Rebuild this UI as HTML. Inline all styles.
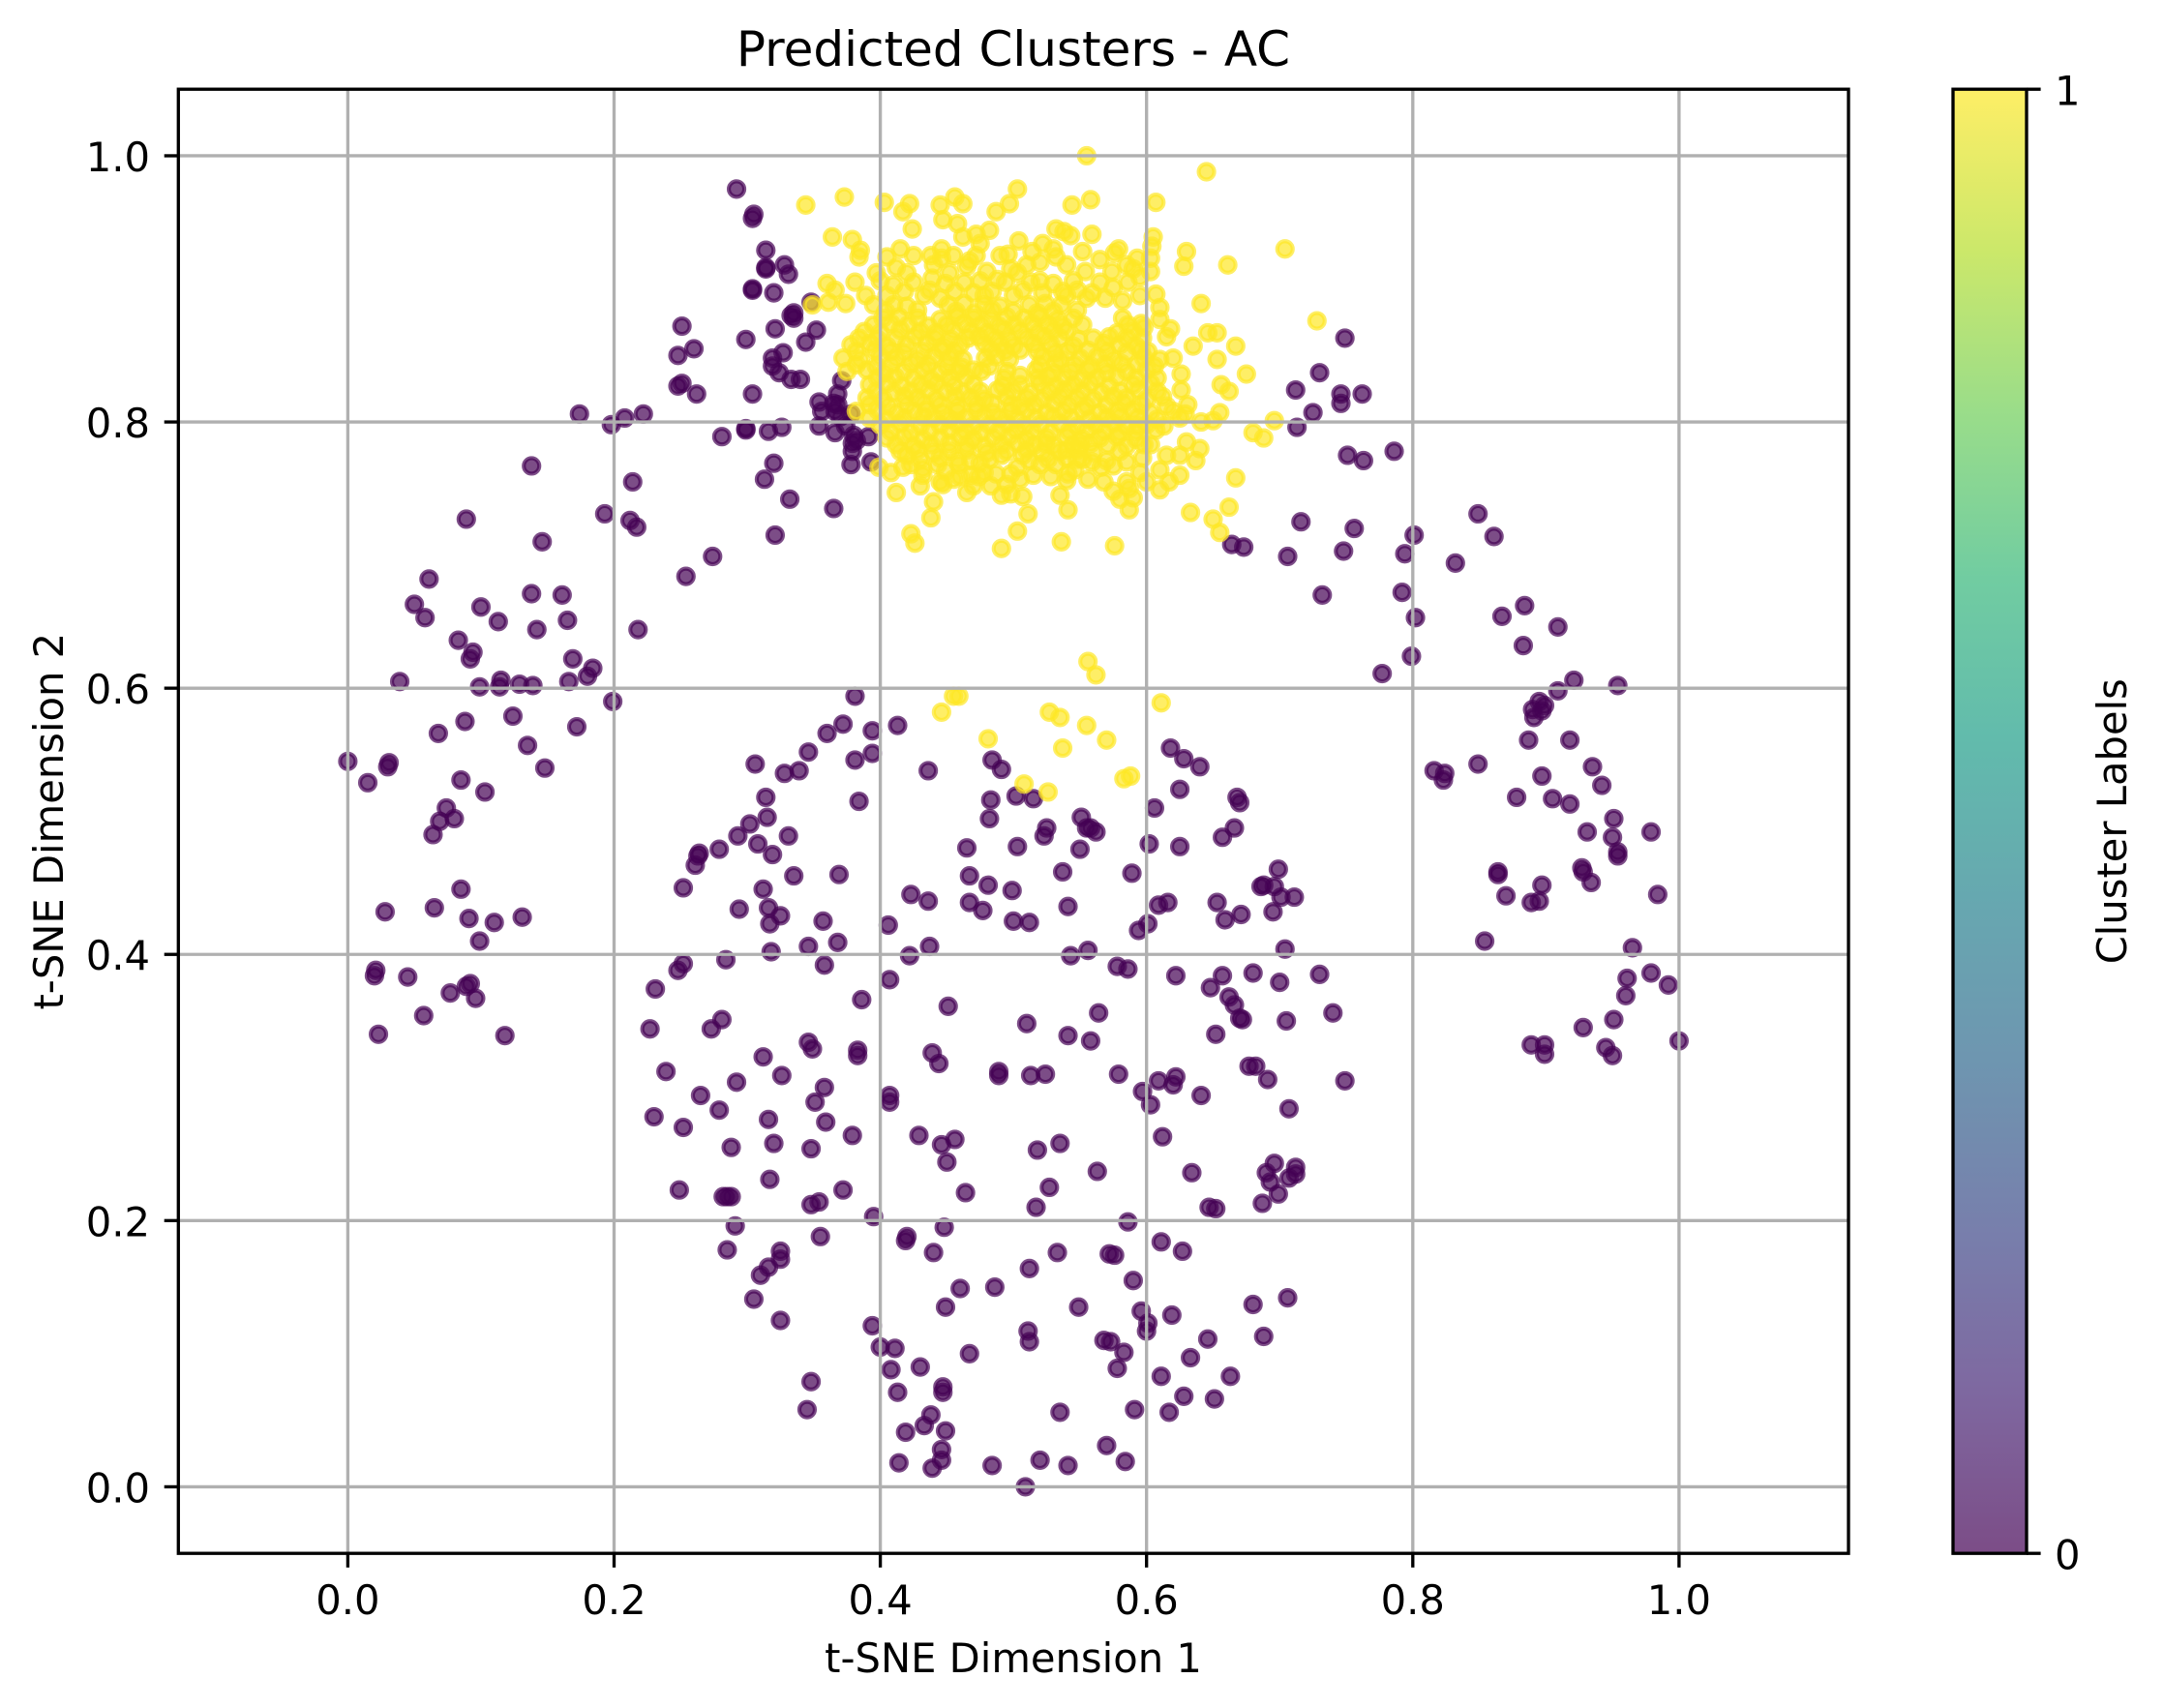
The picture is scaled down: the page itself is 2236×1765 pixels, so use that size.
<!DOCTYPE html>
<html>
<head>
<meta charset="utf-8">
<title>Predicted Clusters - AC</title>
<style>
html,body{margin:0;padding:0;background:#fff}
svg{display:block}
text{font-family:"DejaVu Sans","Liberation Sans",sans-serif;fill:#000}
</style>
</head>
<body>
<svg id="chart" xmlns="http://www.w3.org/2000/svg" width="2236" height="1765" viewBox="0 0 2236 1765">
<defs>
<linearGradient id="viridis" x1="0" y1="1" x2="0" y2="0">
<stop offset="0" stop-color="#440154"/><stop offset="0.111" stop-color="#482878"/><stop offset="0.222" stop-color="#3e4989"/><stop offset="0.333" stop-color="#31688e"/><stop offset="0.444" stop-color="#26828e"/><stop offset="0.556" stop-color="#1f9e89"/><stop offset="0.667" stop-color="#35b779"/><stop offset="0.778" stop-color="#6ece58"/><stop offset="0.889" stop-color="#b5de2b"/><stop offset="1" stop-color="#fde725"/>
</linearGradient>
</defs>
<rect x="0" y="0" width="2236" height="1765" fill="#fff"/>
<g id="points"></g>
<g id="grid"></g>
<rect x="184.3" y="92.2" width="1725.7" height="1513" fill="none" stroke="#000" stroke-width="3.33"/>
<g id="ticks"></g>
<text x="1047" y="68" font-size="50" text-anchor="middle">Predicted Clusters - AC</text>
<text x="1047" y="1728" font-size="41.67" text-anchor="middle">t-SNE Dimension 1</text>
<text transform="translate(65,848.7) rotate(-90)" font-size="41.67" text-anchor="middle">t-SNE Dimension 2</text>
<rect x="2018" y="92.2" width="76" height="1513" fill="url(#viridis)" fill-opacity="0.7"/>
<rect x="2018" y="92.2" width="76" height="1513" fill="none" stroke="#000" stroke-width="3.33"/>
<line x1="2094" y1="92.2" x2="2108.6" y2="92.2" stroke="#000" stroke-width="3.33"/>
<line x1="2094" y1="1605.2" x2="2108.6" y2="1605.2" stroke="#000" stroke-width="3.33"/>
<text x="2123" y="108.5" font-size="41.67">1</text>
<text x="2123" y="1621.5" font-size="41.67">0</text>
<text transform="translate(2197,848.7) rotate(-90)" font-size="41.67" text-anchor="middle">Cluster Labels</text>
</svg>
<script>
const xTickValues = [0, 0.2, 0.4, 0.6, 0.8, 1.0];
const yTickValues = [0, 0.2, 0.4, 0.6, 0.8, 1.0];
const xTickLabels = ["0.0", "0.2", "0.4", "0.6", "0.8", "1.0"];
const yTickLabels = ["0.0", "0.2", "0.4", "0.6", "0.8", "1.0"];
const cluster0Points = [
[.174,.806],[.198,.798],[.208,.803],[.222,.806],[.281,.789],[.299,.795],[.299,.794],[.316,.793],[.326,.796],[.320,.769],[.313,.757],[.332,.742],[.365,.735],[.321,.715],[.274,.699],[.254,.684],[.138,.767],[.214,.755],[.089,.727],[.193,.731],[.212,.726],[.217,.721],[.146,.710],[.061,.682],[.050,.663],[.058,.653],[.100,.661],[.113,.650],[.138,.671],[.161,.670],[.165,.651],[.142,.644],[.218,.644],[.083,.636],[.094,.627],[.092,.622],[.169,.622],[.184,.615],[.180,.609],[.039,.605],[.099,.601],[.115,.606],[.114,.601],[.129,.603],[.139,.602],[.166,.605],[.199,.590],[.381,.594],[.088,.575],[.068,.566],[.124,.579],[.172,.571],[.135,.557],[.148,.540],[0,.545],[.015,.529],[.031,.544],[.030,.541],[.085,.531],[.103,.522],[.074,.510],[.069,.500],[.080,.502],[.064,.490],
[.372,.573],[.360,.566],[.394,.568],[.413,.572],[.346,.552],[.394,.551],[.381,.546],[.339,.538],[.328,.536],[.306,.543],[.436,.538],[.314,.518],[.384,.515],[.315,.503],[.302,.498],[.293,.489],[.308,.483],[.331,.489],[.279,.479],[.264,.476],[.319,.475],[.465,.480],[.484,.546],[.491,.539],[.483,.516],[.482,.502],
[.292,.975],[.305,.956],[.304,.953],[.314,.929],[.314,.915],[.314,.916],[.328,.918],[.331,.911],[.304,.900],[.304,.899],[.320,.897],[.348,.890],[.335,.882],[.335,.878],[.333,.880],[.321,.870],[.352,.869],[.299,.862],[.344,.860],[.251,.872],[.260,.855],[.248,.850],[.327,.852],[.319,.848],[.319,.842],[.324,.837],[.333,.832],[.340,.832],[.251,.829],[.248,.827],[.262,.821],[.304,.821],[.371,.831],[.368,.821],[.354,.815],[.365,.814],[.368,.813],[.356,.808],[.378,.806],[.366,.808],[.370,.804],[.354,.797],[.366,.792],[.374,.797],[.380,.790],[.379,.784],[.382,.786],[.391,.789],[.379,.778],[.378,.768],[.393,.770],
[.749,.863],[.730,.837],[.712,.824],[.746,.821],[.746,.814],[.725,.807],[.762,.821],[.713,.796],[.751,.775],[.716,.725],[.706,.699],[.748,.703],[.664,.708],[.673,.706],[.732,.670],
[.763,.771],[.786,.778],[.849,.731],[.861,.714],[.756,.720],[.801,.715],[.794,.701],[.832,.694],[.792,.672],[.802,.653],[.867,.654],[.884,.662],[.909,.646],[.883,.632],[.799,.624],[.777,.611],[.921,.606],[.954,.602],[.909,.598],[.895,.590],[.899,.587],[.890,.584],[.897,.583],[.891,.578],[.887,.561],[.918,.561],[.849,.543],[.935,.541],[.942,.527],[.816,.538],[.824,.536],[.823,.531],[.897,.534],[.878,.518],[.905,.517],[.918,.513],[.951,.502],[.931,.492],[.950,.488],[.979,.492],[.954,.477],
[.618,.555],[.628,.547],[.640,.541],[.625,.524],[.606,.510],[.668,.518],[.670,.514],[.666,.495],[.657,.488],[.602,.483],[.625,.481],[.502,.519],[.515,.517],[.551,.503],[.555,.495],[.558,.495],[.562,.492],[.525,.495],[.523,.489],[.503,.481],[.550,.479],
[.537,.462],[.589,.461],[.499,.448],[.541,.436],[.609,.437],[.616,.439],[.594,.418],[.601,.423],[.699,.464],[.688,.452],[.686,.451],[.696,.451],[.701,.443],[.711,.443],[.695,.432],[.653,.439],[.671,.430],[.659,.426],[.704,.404],[.543,.399],[.556,.403],[.500,.425],[.512,.424],[.578,.391],[.586,.389],[.622,.384],[.657,.384],[.648,.375],[.680,.386],[.700,.379],[.730,.385],[.662,.368],[.666,.362],[.670,.352],[.672,.351],[.705,.350],[.740,.356],[.652,.340],[.564,.356],[.510,.348],[.541,.339],[.558,.335],[.513,.309],[.524,.310],[.579,.310],[.609,.305],[.622,.308],[.620,.302],[.597,.297],[.603,.287],[.641,.294],[.677,.316],[.682,.316],[.691,.306],[.749,.305],[.707,.284],[.535,.258],[.518,.253],[.612,.263],[.563,.237],[.527,.225],[.517,.210],[.634,.236],[.696,.243],[.690,.236],[.712,.240],[.712,.235],[.707,.232],[.693,.229],[.699,.220],[.687,.213],[.647,.210],[.652,.209],[.586,.199],[.611,.184],[.627,.177],[.533,.176],[.572,.175],[.576,.174],[.512,.164],[.590,.155],[.549,.135],[.596,.132],[.619,.129],[.680,.137],[.706,.142],
[.864,.462],[.864,.460],[.927,.465],[.928,.462],[.934,.454],[.954,.474],[.897,.452],[.870,.444],[.889,.439],[.895,.440],[.984,.445],[.854,.410],[.965,.405],[.961,.382],[.979,.386],[.992,.377],[.960,.369],[.951,.351],[.928,.345],[.889,.332],[.899,.332],[.899,.325],[.945,.330],[.950,.324],[1.0,.335],
[.085,.449],[.028,.432],[.065,.435],[.091,.427],[.110,.424],[.131,.428],[.099,.410],[.021,.388],[.020,.384],[.045,.383],[.092,.378],[.089,.376],[.077,.371],[.096,.367],[.057,.354],[.023,.340],[.118,.339],
[.263,.474],[.261,.467],[.335,.459],[.369,.460],[.252,.450],[.312,.449],[.467,.459],[.481,.452],[.423,.445],[.436,.440],[.467,.439],[.477,.433],[.406,.422],[.437,.406],[.422,.399],[.294,.434],[.316,.435],[.325,.429],[.317,.423],[.357,.425],[.368,.409],[.346,.406],[.318,.402],[.358,.392],[.284,.396],[.252,.393],[.248,.388],[.231,.374],[.386,.366],[.407,.381],[.451,.361],[.281,.351],[.273,.344],[.227,.344],[.346,.334],[.349,.329],[.383,.328],[.383,.324],[.439,.326],[.444,.318],[.312,.323],[.326,.309],[.489,.312],[.489,.309],[.239,.312],[.292,.304],[.265,.294],[.279,.283],[.358,.300],[.351,.289],[.407,.294],[.407,.289],[.230,.278],[.252,.270],[.316,.276],[.359,.274],[.379,.264],[.429,.264],[.456,.261],[.446,.257],[.450,.244],[.288,.255],[.320,.258],[.348,.254],[.317,.231],[.249,.223],[.282,.218],[.285,.218],[.288,.218],[.348,.212],[.354,.214],[.372,.223],[.464,.221],[.395,.203],[.291,.196],[.355,.188],[.420,.188],[.419,.185],[.448,.195],[.440,.176],[.285,.178],[.325,.177],[.325,.171],[.316,.165],[.310,.159],[.305,.141],[.460,.149],[.486,.150],[.449,.135],
[.325,.125],[.394,.121],[.601,.123],[.600,.117],[.511,.117],[.512,.109],[.400,.105],[.411,.104],[.467,.100],[.568,.110],[.573,.109],[.583,.101],[.578,.089],[.646,.111],[.633,.097],[.688,.113],[.611,.083],[.663,.083],[.408,.088],[.430,.090],[.348,.079],[.413,.071],[.447,.075],[.447,.071],[.628,.068],[.651,.066],[.345,.058],[.535,.056],[.591,.058],[.617,.056],[.438,.054],[.433,.046],[.419,.041],[.449,.042],[.570,.031],[.446,.028],[.446,.020],[.439,.014],[.414,.018],[.484,.016],[.520,.020],[.541,.016],[.584,.019],[.509,0]
];
const cluster1Points = [
[.555,1.000],[.645,.988],[.344,.963],[.373,.969],[.403,.965],[.422,.964],[.417,.958],[.445,.963],[.456,.969],[.462,.964],[.503,.975],[.497,.964],[.487,.958],[.544,.963],[.558,.967],[.607,.965],[.447,.952],[.424,.945],[.458,.949],[.462,.939],[.472,.941],[.482,.944],[.475,.934],[.364,.939],[.379,.937],[.385,.929],[.384,.924],[.446,.930],[.446,.923],[.405,.924],[.412,.916],[.504,.936],[.496,.926],[.514,.928],[.522,.934],[.532,.945],[.538,.943],[.543,.940],[.559,.941],[.530,.930],[.532,.924],[.552,.928],[.565,.922],[.579,.930],[.576,.927],[.593,.923],[.605,.939],[.604,.932],[.603,.923],[.603,.913],[.630,.928],[.628,.917],[.661,.918],[.704,.930],[.467,.921],[.465,.917],[.480,.913],[.498,.915],[.439,.908],[.449,.904],[.456,.898],[.433,.895],[.381,.905],[.360,.904],[.366,.899],[.349,.888],[.361,.890],[.374,.889],[.389,.895],[.400,.906],[.410,.903],[.418,.898],[.475,.906],[.488,.907],[.507,.899],[.520,.906],[.530,.904],[.545,.906],[.554,.913],[.559,.897],[.575,.901],[.574,.913],[.582,.891],[.595,.909],[.595,.895],[.607,.896],[.610,.886],[.610,.877],[.641,.889],[.728,.876],[.618,.870],[.615,.864],[.598,.871],[.597,.863],[.596,.854],[.646,.867],[.653,.867],[.635,.857],[.667,.857],[.653,.847],[.675,.836],[.656,.828],[.662,.823],[.655,.807],[.641,.800],[.650,.801],[.696,.801],[.680,.792],[.688,.788],[.610,.847],[.620,.848],[.626,.836],[.608,.833],[.626,.824],[.631,.813],[.615,.812],[.629,.806],[.613,.797],[.594,.797],[.603,.783],[.637,.771],[.667,.758],[.610,.764],[.617,.755],[.610,.749],[.662,.736],[.633,.732],[.650,.727],[.655,.717],[.587,.734],[.585,.755],[.587,.750],[.597,.773],[.585,.770],[.575,.767],[.566,.766],[.559,.770],[.576,.707],[.536,.710],[.541,.734],[.503,.718],[.491,.705],[.511,.731],[.507,.744],[.498,.746],[.491,.745],[.483,.752],[.465,.747],[.447,.753],[.412,.747],[.438,.728],[.423,.716],[.426,.709],[.540,.756],[.541,.761],[.546,.764],[.474,.759],[.475,.769],[.459,.768],[.443,.768],[.449,.763],[.417,.766],[.408,.762],[.423,.768],[.399,.766],[.498,.761],[.503,.766],[.491,.775],[.507,.775],[.524,.784],[.540,.779],[.550,.783],
[.395,.888],[.410,.888],[.420,.887],[.451,.888],[.463,.889],[.478,.888],[.490,.887],[.512,.888],[.524,.889],[.536,.888],
[.402,.878],[.414,.879],[.428,.878],[.445,.877],[.458,.879],[.470,.878],[.483,.877],[.495,.879],[.508,.878],[.520,.879],[.533,.877],[.545,.878],[.582,.878],
[.388,.868],[.400,.867],[.415,.869],[.430,.868],[.442,.867],[.455,.869],[.468,.868],[.480,.867],[.493,.869],[.505,.868],[.518,.867],[.530,.869],[.540,.868],[.578,.867],[.590,.868],
[.378,.858],[.392,.859],[.405,.857],[.420,.858],[.435,.859],[.448,.857],[.460,.858],[.478,.859],[.490,.858],[.500,.857],[.515,.859],[.528,.858],[.545,.857],[.568,.859],[.580,.858],[.592,.857],
[.372,.848],[.385,.847],[.400,.849],[.412,.848],[.428,.847],[.440,.849],[.452,.848],[.462,.847],[.479,.848],[.487,.849],[.497,.847],[.522,.849],[.535,.847],[.550,.848],[.563,.849],[.575,.847],[.598,.848],
[.375,.838],[.390,.839],[.403,.837],[.418,.838],[.432,.839],[.445,.837],[.458,.838],[.470,.839],[.482,.842],[.495,.838],[.517,.839],[.530,.837],[.543,.838],[.556,.839],[.570,.837],[.585,.838],[.600,.839],
[.392,.828],[.405,.829],[.416,.827],[.430,.828],[.442,.829],[.455,.827],[.470,.828],[.492,.827],[.505,.828],[.520,.829],[.532,.827],[.545,.828],[.558,.829],[.572,.827],[.590,.828],[.603,.829],
[.390,.818],[.402,.817],[.418,.819],[.428,.818],[.442,.817],[.456,.819],[.468,.818],[.478,.817],[.495,.819],[.510,.818],[.522,.817],[.535,.819],[.548,.818],[.560,.817],[.575,.819],[.585,.818],[.600,.817],[.612,.819],
[.382,.808],[.398,.809],[.412,.807],[.425,.808],[.435,.809],[.447,.807],[.458,.808],[.472,.809],[.485,.807],[.498,.808],[.510,.809],[.525,.807],[.538,.808],[.552,.809],[.565,.807],[.578,.808],[.590,.809],[.603,.807],[.620,.808],
[.400,.798],[.415,.799],[.430,.797],[.445,.798],[.458,.799],[.470,.797],[.482,.798],[.495,.799],[.508,.797],[.520,.798],[.535,.799],[.548,.797],[.562,.798],[.575,.799],[.585,.797],[.600,.798],
[.405,.788],[.418,.789],[.432,.787],[.445,.788],[.460,.789],[.470,.787],[.485,.788],[.497,.789],[.510,.787],[.525,.788],[.540,.789],[.552,.787],[.565,.788],[.578,.789],[.592,.787],
[.415,.778],[.428,.779],[.440,.777],[.452,.778],[.465,.779],[.480,.777],[.495,.778],[.510,.779],[.522,.777],[.535,.778],[.548,.779],[.560,.777],[.580,.778],
[.404,.883],[.428,.884],[.457,.883],[.471,.882],[.484,.884],[.500,.883],[.518,.882],[.530,.883],[.548,.884],
[.395,.873],[.408,.874],[.421,.873],[.436,.872],[.450,.873],[.463,.874],[.476,.873],[.489,.872],[.501,.873],[.514,.874],[.526,.873],[.537,.872],[.552,.873],[.586,.873],[.596,.874],
[.384,.863],[.398,.862],[.412,.863],[.426,.864],[.441,.863],[.453,.862],[.466,.863],[.474,.864],[.486,.863],[.497,.862],[.510,.863],[.523,.864],[.535,.863],[.549,.862],[.560,.863],[.572,.864],[.585,.863],
[.382,.853],[.396,.854],[.408,.853],[.418,.852],[.432,.853],[.446,.854],[.456,.853],[.483,.854],[.494,.853],[.505,.854],[.518,.853],[.531,.852],[.541,.853],[.556,.854],[.570,.853],[.585,.852],[.601,.853],
[.382,.843],[.397,.842],[.408,.843],[.423,.844],[.436,.843],[.450,.842],[.461,.841],[.476,.838],[.520,.843],[.532,.844],[.546,.843],[.558,.842],[.569,.843],[.581,.844],[.593,.843],[.606,.842],
[.398,.833],[.411,.834],[.425,.833],[.438,.832],[.452,.833],[.464,.834],[.493,.833],[.505,.835],[.518,.833],[.526,.834],[.538,.833],[.551,.832],[.563,.833],[.578,.834],[.592,.833],
[.397,.823],[.410,.822],[.423,.823],[.436,.824],[.449,.823],[.462,.822],[.475,.823],[.488,.824],[.500,.823],[.513,.822],[.527,.823],[.539,.824],[.552,.823],[.566,.822],[.580,.823],[.594,.824],[.608,.823],
[.392,.813],[.406,.812],[.420,.813],[.433,.814],[.445,.813],[.458,.812],[.472,.813],[.484,.814],[.498,.813],[.505,.812],[.516,.813],[.530,.814],[.542,.813],[.555,.812],[.570,.813],[.583,.814],[.596,.813],
[.392,.803],[.405,.802],[.418,.803],[.432,.804],[.440,.803],[.452,.802],[.465,.803],[.478,.804],[.490,.803],[.503,.802],[.517,.803],[.530,.804],[.543,.803],[.557,.802],[.570,.803],[.580,.804],[.593,.803],[.608,.802],[.625,.803],
[.408,.793],[.423,.792],[.437,.793],[.452,.794],[.464,.793],[.476,.792],[.489,.793],[.502,.794],[.514,.793],[.528,.792],[.542,.793],[.555,.794],[.568,.793],[.580,.792],[.592,.793],[.607,.794],
[.412,.783],[.425,.782],[.438,.783],[.452,.784],[.465,.783],[.478,.782],[.491,.783],[.503,.784],[.516,.783],[.530,.782],[.545,.783],[.558,.784],[.571,.783],[.585,.782],[.598,.783],
[.430,.772],[.445,.773],[.458,.772],[.468,.771],[.482,.772],[.512,.771],[.526,.772],[.540,.773],[.552,.772],[.570,.771],
[.432,.760],[.460,.759],[.487,.761],[.515,.760],[.528,.759],
[.425,.905],[.437,.899],[.452,.912],[.463,.905],[.470,.897],[.484,.898],[.494,.905],[.503,.912],[.513,.905],[.522,.897],[.537,.898],[.548,.899],[.565,.905],[.569,.893],[.586,.905],[.590,.915],[.440,.918],[.455,.925],[.490,.925],[.510,.918],[.520,.920],[.540,.918],[.585,.918],[.472,.925],[.438,.925],[.425,.925],[.415,.930],[.397,.912],[.420,.912],[.405,.895],[.445,.893],[.478,.895],[.500,.895],[.540,.895],[.555,.893],
[.420,.775],[.432,.765],[.445,.755],[.455,.757],[.468,.760],[.478,.762],[.495,.753],[.505,.757],[.520,.768],[.532,.768],[.548,.772],[.556,.757],[.568,.755],[.575,.748],[.595,.762],[.600,.755],[.590,.743],[.625,.760],[.630,.785],[.640,.780],[.615,.775],[.470,.752],[.440,.740],[.430,.752],[.535,.745],[.580,.742],[.625,.775],
[.556,.620],[.562,.610],[.611,.589],[.527,.582],[.535,.578],[.555,.572],[.570,.561],[.537,.555],[.583,.532],[.588,.534],[.508,.528],[.526,.522],[.455,.594],[.459,.594],[.446,.582],[.481,.562]
];

const SVG_NS = "http://www.w3.org/2000/svg";
const xDomain = [-0.1273, 1.1273];
const yDomain = [-0.05, 1.05];
const plotLeft = 184.3, plotRight = 1910, plotTop = 92.2, plotBottom = 1605.2;
function xScale(v) { return plotLeft + (v - xDomain[0]) / (xDomain[1] - xDomain[0]) * (plotRight - plotLeft); }
function yScale(v) { return plotBottom - (v - yDomain[0]) / (yDomain[1] - yDomain[0]) * (plotBottom - plotTop); }
function make(tag, attrs, parent) {
  const el = document.createElementNS(SVG_NS, tag);
  for (const k in attrs) el.setAttribute(k, attrs[k]);
  parent.appendChild(el);
  return el;
}
const pointsLayer = document.getElementById("points");
cluster0Points.forEach(function (p) {
  const el = make("circle", { cx: xScale(p[0]), cy: yScale(p[1]), r: 8, fill: "#440154", stroke: "#440154", "stroke-width": 4.17, "fill-opacity": 0.7, "stroke-opacity": 0.7 }, pointsLayer);
  
  
});
cluster1Points.forEach(function (p) {
  const el = make("circle", { cx: xScale(p[0]), cy: yScale(p[1]), r: 8, fill: "#fde725", stroke: "#fde725", "stroke-width": 4.17, "fill-opacity": 0.7, "stroke-opacity": 0.7 }, pointsLayer);
  
  
});
const gridLayer = document.getElementById("grid");
const tickLayer = document.getElementById("ticks");
xTickValues.forEach(function (v, i) {
  const x = xScale(v);
  const g = make("line", { x1: x, x2: x, y1: plotTop, y2: plotBottom, stroke: "#b0b0b0", "stroke-width": 3.33 }, gridLayer);
  
  
  const t = make("line", { x1: x, x2: x, y1: plotBottom, y2: plotBottom + 14.6, stroke: "#000", "stroke-width": 3.33 }, tickLayer);
  
  
  const l = make("text", { x: x, y: 1668, "font-size": 41.67, "text-anchor": "middle" }, tickLayer);
  
  
  l.textContent = xTickLabels[i];
});
yTickValues.forEach(function (v, i) {
  const y = yScale(v);
  const g = make("line", { x1: plotLeft, x2: plotRight, y1: y, y2: y, stroke: "#b0b0b0", "stroke-width": 3.33 }, gridLayer);
  
  
  const t = make("line", { x1: plotLeft - 14.6, x2: plotLeft, y1: y, y2: y, stroke: "#000", "stroke-width": 3.33 }, tickLayer);
  
  
  const l = make("text", { x: 155, y: y + 16, "font-size": 41.67, "text-anchor": "end" }, tickLayer);
  
  
  l.textContent = yTickLabels[i];
});
</script>
</body>
</html>
